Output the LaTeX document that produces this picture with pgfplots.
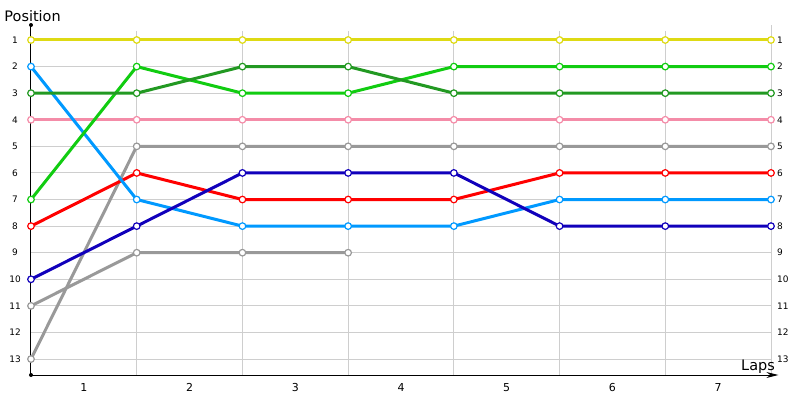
\documentclass[border=0pt]{standalone}
\usepackage{fontspec}
\setmainfont{DejaVu Sans}
\usepackage{pgfplots}
\pgfplotsset{compat=1.18}
\usetikzlibrary{arrows.meta}

\definecolor{cYellow}{RGB}{222,218,20}
\definecolor{cLGreen}{RGB}{17,204,17}
\definecolor{cDGreen}{RGB}{34,153,34}
\definecolor{cPink}{RGB}{244,140,168}
\definecolor{cGray}{RGB}{153,153,153}
\definecolor{cRed}{RGB}{255,0,0}
\definecolor{cLBlue}{RGB}{0,153,255}
\definecolor{cDBlue}{RGB}{17,0,187}
\definecolor{cGrid}{RGB}{206,206,206}

\pgfplotsset{
  lap/.style={line width=3bp, mark=*, mark size=3.3bp,
    mark options={fill=white, draw=#1, line width=1.2bp}, color=#1},
}

\begin{document}
\begin{tikzpicture}
\useasboundingbox (-31bp,-25bp) rectangle (769bp,375bp);
\begin{axis}[
    scale only axis,
    width=740bp, height=350bp,
    xmin=0, xmax=7,
    ymin=0.436, ymax=13.6,
    y dir=reverse,
    axis line style={draw=none},
    ticks=none,
    clip=false,
]
% grid
\pgfplotsinvokeforeach{1,...,13}{
  \draw[cGrid, line width=1bp] (axis cs:0,#1) -- (axis cs:7,#1);
}
\pgfplotsinvokeforeach{1,...,6}{
  \draw[cGrid, line width=1bp] (axis cs:#1,0.66) -- (axis cs:#1,13.6);
}
\draw[cGrid, line width=1bp] (axis cs:7,0.44) -- (axis cs:7,13.6);

% axes
\draw[black, line width=1bp] (axis cs:0,0.436) -- (axis cs:0,13.6);
\fill[black] (axis cs:0,0.436) circle (2bp);
\fill[black] (axis cs:0,13.6) circle (2bp);
\draw[black, line width=1bp, -{Stealth[length=12bp,width=6bp]}] (axis cs:0,13.6) -- (axis cs:7.07,13.6);

% tick labels
\pgfplotsinvokeforeach{1,...,13}{
  \node[font=\fontsize{9}{9}\selectfont, anchor=center, inner sep=0pt] at (axis cs:-0.151,#1) {#1};
  \node[font=\fontsize{9}{9}\selectfont, anchor=west, inner sep=0pt] at (axis cs:7.057,#1) {#1};
}
\pgfplotsinvokeforeach{1,...,7}{
  \node[font=\fontsize{11}{11}\selectfont, anchor=center, inner sep=0pt] at (axis cs:#1-0.5,14.08) {#1};
}
\node[font=\fontsize{14.5}{14.5}\selectfont, anchor=base, inner sep=0pt] at (axis cs:0.015,0.286) {Position};
\node[font=\fontsize{14.5}{14.5}\selectfont, anchor=base east, inner sep=0pt] at (axis cs:7.038,13.412) {Laps};

% series
\addplot[lap=cGray] coordinates {(0,11) (1,9) (2,9) (3,9)};
\addplot[lap=cGray] coordinates {(0,13) (1,5) (2,5) (3,5) (4,5) (5,5) (6,5) (7,5)};
\addplot[lap=cPink] coordinates {(0,4) (1,4) (2,4) (3,4) (4,4) (5,4) (6,4) (7,4)};
\addplot[lap=cYellow] coordinates {(0,1) (1,1) (2,1) (3,1) (4,1) (5,1) (6,1) (7,1)};
\addplot[lap=cRed] coordinates {(0,8) (1,6) (2,7) (3,7) (4,7) (5,6) (6,6) (7,6)};
\addplot[lap=cLBlue] coordinates {(0,2) (1,7) (2,8) (3,8) (4,8) (5,7) (6,7) (7,7)};
\addplot[lap=cLGreen] coordinates {(0,7) (1,2) (2,3) (3,3) (4,2) (5,2) (6,2) (7,2)};
\addplot[lap=cDGreen] coordinates {(0,3) (1,3) (2,2) (3,2) (4,3) (5,3) (6,3) (7,3)};
\addplot[lap=cDBlue] coordinates {(0,10) (1,8) (2,6) (3,6) (4,6) (5,8) (6,8) (7,8)};
\end{axis}
\end{tikzpicture}
\end{document}
